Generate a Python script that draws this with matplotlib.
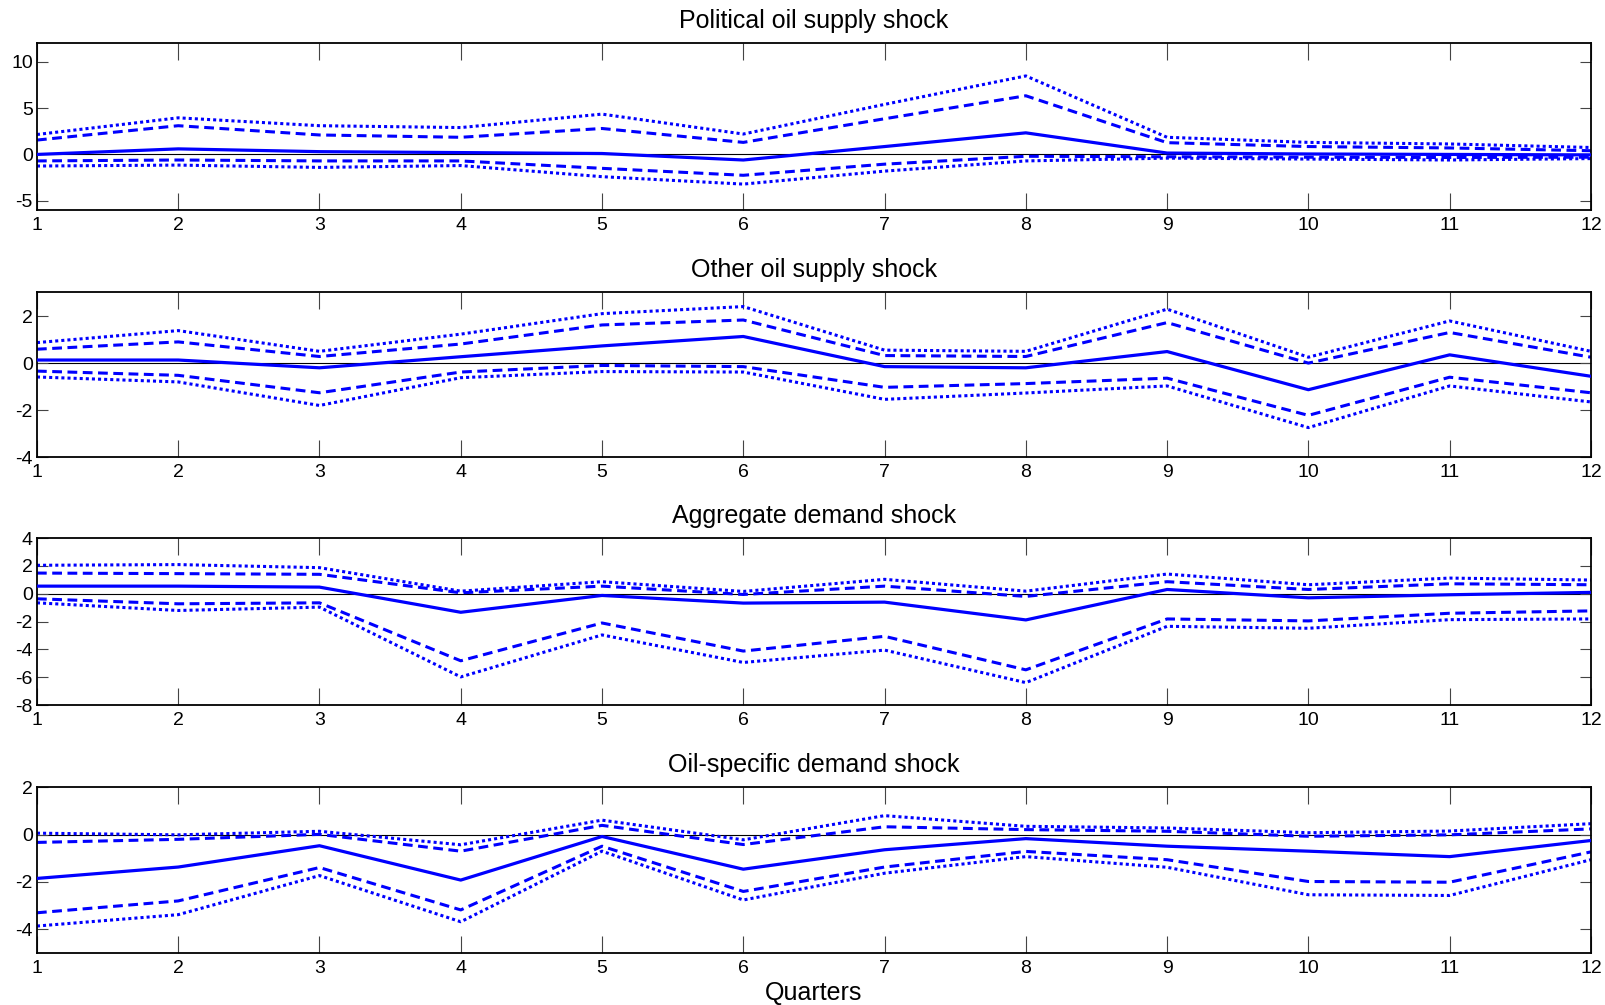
import matplotlib

matplotlib.use("Agg")
import matplotlib.pyplot as plt

plt.rcParams["font.family"] = ["Liberation Sans", "DejaVu Sans"]
plt.rcParams["axes.unicode_minus"] = False

quarters = list(range(1, 13))

titles = [
    "Political oil supply shock",
    "Other oil supply shock",
    "Aggregate demand shock",
    "Oil-specific demand shock",
]
ylims = [(-6, 12), (-4, 3), (-8, 4), (-5, 2)]
yticks = [[-5, 0, 5, 10], [-4, -2, 0, 2], [-8, -6, -4, -2, 0, 2, 4], [-4, -2, 0, 2]]

# political oil supply shock
pol_med = [0.0, 0.6, 0.3, 0.2, 0.1, -0.6, 0.85, 2.33, 0.15, 0.05, 0.0, -0.05]
pol_hi68 = [1.55, 3.1, 2.1, 1.85, 2.8, 1.3, 3.85, 6.33, 1.27, 0.85, 0.7, 0.4]
pol_hi90 = [2.15, 3.95, 3.1, 2.9, 4.35, 2.2, 5.4, 8.47, 1.85, 1.3, 1.13, 0.75]
pol_lo68 = [-0.7, -0.6, -0.7, -0.7, -1.5, -2.25, -1.05, -0.2, -0.25, -0.3, -0.33, -0.3]
pol_lo90 = [-1.25, -1.15, -1.4, -1.2, -2.4, -3.2, -1.8, -0.7, -0.4, -0.5, -0.6, -0.45]

# other oil supply shock
oth_med = [0.13, 0.13, -0.2, 0.27, 0.73, 1.13, -0.15, -0.2, 0.49, -1.13, 0.35, -0.56]
oth_hi68 = [0.59, 0.9, 0.28, 0.81, 1.62, 1.83, 0.32, 0.28, 1.72, 0.0, 1.3, 0.25]
oth_hi90 = [0.87, 1.38, 0.5, 1.23, 2.1, 2.4, 0.55, 0.5, 2.29, 0.25, 1.79, 0.5]
oth_lo68 = [-0.34, -0.52, -1.26, -0.38, -0.1, -0.15, -1.03, -0.87, -0.64, -2.22, -0.6, -1.26]
oth_lo90 = [-0.59, -0.8, -1.8, -0.62, -0.36, -0.38, -1.54, -1.27, -0.97, -2.74, -0.97, -1.65]

# aggregate demand shock
agg_med = [0.55, 0.55, 0.48, -1.33, -0.12, -0.67, -0.6, -1.88, 0.31, -0.29, -0.07, 0.1]
agg_hi68 = [1.49, 1.45, 1.4, 0.07, 0.55, -0.05, 0.55, -0.19, 0.87, 0.31, 0.72, 0.65]
agg_hi90 = [2.05, 2.1, 1.88, 0.19, 0.87, 0.17, 1.04, 0.19, 1.42, 0.65, 1.13, 0.99]
agg_lo68 = [-0.36, -0.72, -0.65, -4.82, -2.1, -4.12, -3.06, -5.47, -1.81, -1.95, -1.4, -1.23]
agg_lo90 = [-0.65, -1.2, -0.96, -5.98, -2.96, -4.94, -4.05, -6.39, -2.34, -2.48, -1.86, -1.81]

# oil-specific demand shock
osd_med = [-1.85, -1.37, -0.47, -1.92, -0.08, -1.46, -0.64, -0.17, -0.49, -0.7, -0.93, -0.25]
osd_hi68 = [-0.33, -0.2, 0.01, -0.7, 0.39, -0.42, 0.33, 0.21, 0.14, -0.07, -0.01, 0.24]
osd_hi90 = [0.06, -0.01, 0.14, -0.43, 0.61, -0.22, 0.8, 0.35, 0.28, 0.08, 0.15, 0.46]
osd_lo68 = [-3.3, -2.8, -1.39, -3.18, -0.49, -2.4, -1.37, -0.71, -1.06, -1.98, -2.01, -0.73]
osd_lo90 = [-3.86, -3.38, -1.73, -3.68, -0.7, -2.76, -1.63, -0.93, -1.38, -2.54, -2.57, -1.06]

panels = [
    (pol_med, pol_hi68, pol_lo68, pol_hi90, pol_lo90),
    (oth_med, oth_hi68, oth_lo68, oth_hi90, oth_lo90),
    (agg_med, agg_hi68, agg_lo68, agg_hi90, agg_lo90),
    (osd_med, osd_hi68, osd_lo68, osd_hi90, osd_lo90),
]

fig = plt.figure(figsize=(16.06, 10.05), dpi=100)
bottoms = [0.791, 0.545, 0.2985, 0.0517]
heights = [0.166, 0.164, 0.166, 0.165]

for i, (med, hi68, lo68, hi90, lo90) in enumerate(panels):
    ax = fig.add_axes([0.023, bottoms[i], 0.9676, heights[i]])
    ax.axhline(0, color="black", lw=0.8, zorder=1)
    ax.plot(quarters, med, "-", color="#0000ff", lw=2.3, zorder=3)
    for band in (hi68, lo68):
        ax.plot(quarters, band, color="#0000ff", lw=2.2, ls=(0, (3.2, 1.8)), zorder=2)
    for band in (hi90, lo90):
        ax.plot(quarters, band, color="#0000ff", lw=2.2, ls=(0, (1, 1)), zorder=2)
    ax.set_xlim(1, 12)
    ax.set_ylim(*ylims[i])
    ax.set_xticks(quarters)
    ax.set_yticks(yticks[i])
    ax.tick_params(direction="in", top=True, right=True, length=12, width=0.8,
                   color="#444444", labelsize=14, pad=5)
    ax.tick_params(axis="y", length=8, pad=3)
    for s in ax.spines.values():
        s.set_linewidth(1.3)
    ax.set_title(titles[i], fontsize=18, pad=11)
    if i == 3:
        ax.set_xlabel("Quarters", fontsize=18, labelpad=3)

fig.savefig("out.png", dpi=100)
